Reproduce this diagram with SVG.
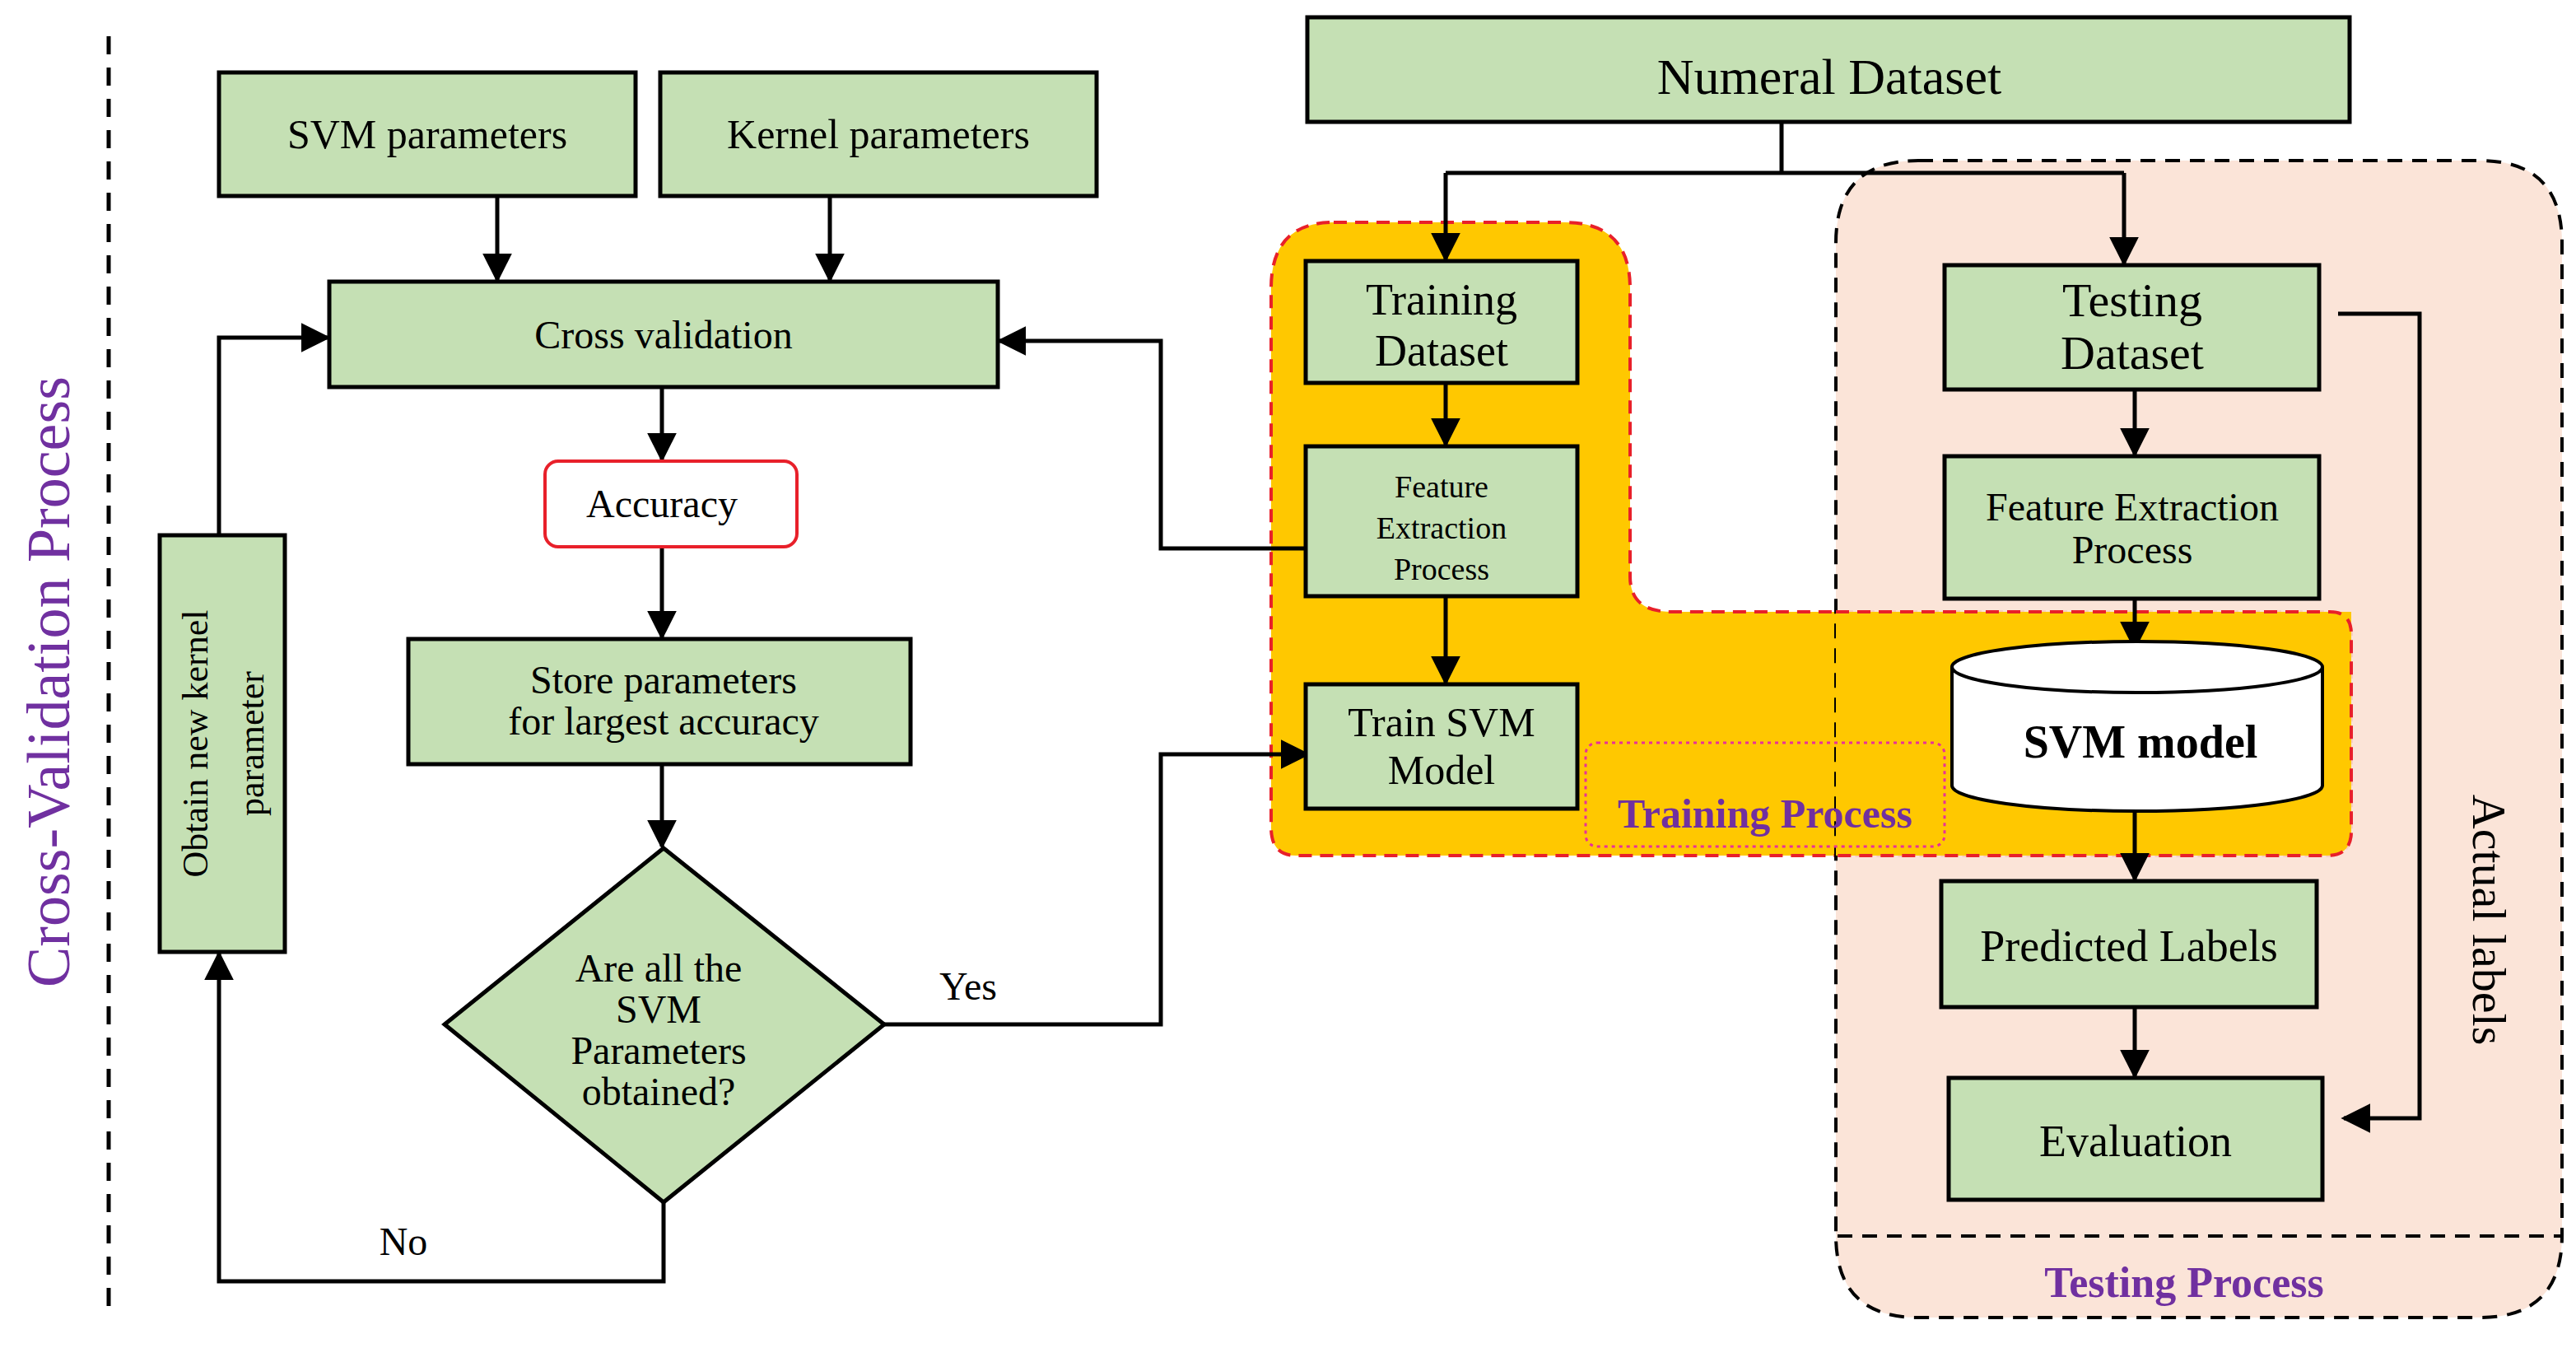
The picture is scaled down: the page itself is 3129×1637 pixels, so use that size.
<svg xmlns="http://www.w3.org/2000/svg" width="3129" height="1637" viewBox="0 0 3129 1637">
<defs>
<marker id="ah" viewBox="0 0 10 10" refX="9" refY="5" markerWidth="36" markerHeight="36" orient="auto" markerUnits="userSpaceOnUse"><path d="M0,0L10,5L0,10z" fill="#000"/></marker>
<style>
.b{fill:#C5E0B4;stroke:#000;stroke-width:5}
.t{font-family:"Liberation Serif","DejaVu Serif",serif;fill:#000;text-anchor:middle}
.c{fill:none;stroke:#000;stroke-width:5;marker-end:url(#ah)}
.l{fill:none;stroke:#000;stroke-width:5}
.p{font-family:"Liberation Serif",serif;fill:#7030A0;text-anchor:middle}
</style>
</defs>
<rect width="3129" height="1637" fill="#fff"/>
<line x1="132" y1="44" x2="132" y2="1592" stroke="#000" stroke-width="5" stroke-dasharray="22,16"/>
<text class="p" transform="translate(84,828) rotate(-90)" font-size="74">Cross-Validation Process</text>
<g id="regions">
<path d="M1620,270 H1900 Q1980,270 1980,350 V700 Q1980,743 2030,743 H2830 Q2856,743 2856,770 V1010 Q2856,1039 2826,1039 H1574 Q1544,1039 1544,1005 V350 Q1544,270 1620,270 Z" fill="#FFC800" stroke="#E8202A" stroke-width="4" stroke-dasharray="16,10"/>
<path d="M2330,195 H3012 Q3112,195 3112,295 V1500 Q3112,1600 3012,1600 H2330 Q2230,1600 2230,1500 V295 Q2230,195 2330,195 Z" fill="#FBE1D4" fill-opacity="0.9" stroke="#000" stroke-width="4" stroke-dasharray="18,12"/>
<path d="M1980,743 H2856 V1010 Q2856,1039 2826,1039 H2230 V743 Z" fill="#FFC800"/>
<path d="M2230,743 H2830 Q2856,743 2856,770 V1010 Q2856,1039 2826,1039 H2230" fill="none" stroke="#E8202A" stroke-width="4" stroke-dasharray="16,10"/>
<line x1="2232" y1="1501" x2="3110" y2="1501" stroke="#000" stroke-width="4" stroke-dasharray="18,12"/>
<text class="p" x="2653" y="1575" font-size="52" font-weight="bold">Testing Process</text>
<rect x="1926" y="902" width="436" height="126" rx="14" fill="none" stroke="#E8309A" stroke-width="3" stroke-dasharray="4,5"/>
<text class="p" x="2144" y="1005" font-size="50" font-weight="bold">Training Process</text>
</g>
<g id="connectors">
<path class="c" d="M604,238V340"/>
<path class="c" d="M1008,238V340"/>
<path class="c" d="M804,470V558"/>
<path class="c" d="M804,664V774"/>
<path class="c" d="M804,928V1028"/>
<path class="c" d="M806,1460V1556H266V1158"/>
<path class="c" d="M266,650V410H398"/>
<path class="c" d="M1074,1244H1410V916H1588"/>
<path class="c" d="M1590,666H1410V414H1214"/>
<path class="l" d="M2164,148V210"/>
<path class="l" d="M1756,210H2580"/>
<path class="c" d="M1756,210V315"/>
<path class="c" d="M2580,210V320"/>
<path class="c" d="M1756,465V540"/>
<path class="c" d="M1756,724V829"/>
<path class="c" d="M2593,473V552"/>
<path class="c" d="M2593,727V787"/>
<path class="c" d="M2593,985V1068"/>
<path class="c" d="M2593,1223V1307"/>
<path class="c" d="M2840,381H2939V1358H2847"/>
<text class="t" transform="translate(3004,1117) rotate(90)" font-size="58">Actual labels</text>
<text class="t" x="1176" y="1214" font-size="48">Yes</text>
<text class="t" x="490" y="1524" font-size="48">No</text>
</g>
<g id="svm-params"><rect class="b" x="266" y="88" width="506" height="150"/><text class="t" x="519" y="180" font-size="50">SVM parameters</text></g>
<g id="kernel-params"><rect class="b" x="802" y="88" width="530" height="150"/><text class="t" x="1067" y="180" font-size="50">Kernel parameters</text></g>
<g id="cross-validation"><rect class="b" x="400" y="342" width="812" height="128"/><text class="t" x="806" y="423" font-size="48">Cross validation</text></g>
<g id="accuracy"><rect x="662" y="560" width="306" height="104" rx="16" fill="#fff" stroke="#E8202A" stroke-width="4"/><text class="t" x="804" y="628" font-size="48">Accuracy</text></g>
<g id="store"><rect class="b" x="496" y="776" width="610" height="152"/><text class="t" x="806" y="842" font-size="48">Store parameters</text><text class="t" x="806" y="892" font-size="48">for largest accuracy</text></g>
<g id="decision"><path class="b" d="M806,1030L1074,1244L806,1460L540,1244Z"/><text class="t" x="800" y="1192" font-size="48">Are all the</text><text class="t" x="800" y="1242" font-size="48">SVM</text><text class="t" x="800" y="1292" font-size="48">Parameters</text><text class="t" x="800" y="1342" font-size="48">obtained?</text></g>
<g id="obtain"><rect class="b" x="194" y="650" width="152" height="506"/><text class="t" transform="translate(252,903) rotate(-90)" font-size="44">Obtain new kernel</text><text class="t" transform="translate(320,903) rotate(-90)" font-size="44">parameter</text></g>
<g id="numeral"><rect class="b" x="1588" y="21" width="1266" height="127"/><text class="t" x="2222" y="114" font-size="62">Numeral Dataset</text></g>
<g id="training-dataset"><rect class="b" x="1586" y="317" width="330" height="148"/><text class="t" x="1751" y="382" font-size="54">Training</text><text class="t" x="1751" y="444" font-size="54">Dataset</text></g>
<g id="feature-train"><rect class="b" x="1586" y="542" width="330" height="182"/><text class="t" x="1751" y="604" font-size="38">Feature</text><text class="t" x="1751" y="654" font-size="38">Extraction</text><text class="t" x="1751" y="704" font-size="38">Process</text></g>
<g id="train-svm"><rect class="b" x="1586" y="831" width="330" height="151"/><text class="t" x="1751" y="894" font-size="50">Train SVM</text><text class="t" x="1751" y="952" font-size="50">Model</text></g>
<g id="testing-dataset"><rect class="b" x="2362" y="322" width="455" height="151"/><text class="t" x="2590" y="384" font-size="58">Testing</text><text class="t" x="2590" y="448" font-size="58">Dataset</text></g>
<g id="feature-test"><rect class="b" x="2362" y="554" width="455" height="173"/><text class="t" x="2590" y="632" font-size="48">Feature Extraction</text><text class="t" x="2590" y="684" font-size="48">Process</text></g>
<g id="svm-model"><path d="M2371,810V954A225,31 0 0 0 2821,954V810" fill="#fff" stroke="#000" stroke-width="4"/><ellipse cx="2596" cy="810" rx="225" ry="31" fill="#fff" stroke="#000" stroke-width="4"/><text class="t" x="2600" y="920" font-size="56" font-weight="bold">SVM model</text></g>
<g id="predicted"><rect class="b" x="2358" y="1070" width="456" height="153"/><text class="t" x="2586" y="1167" font-size="54">Predicted Labels</text></g>
<g id="evaluation"><rect class="b" x="2367" y="1309" width="454" height="148"/><text class="t" x="2594" y="1404" font-size="54">Evaluation</text></g>
</svg>
